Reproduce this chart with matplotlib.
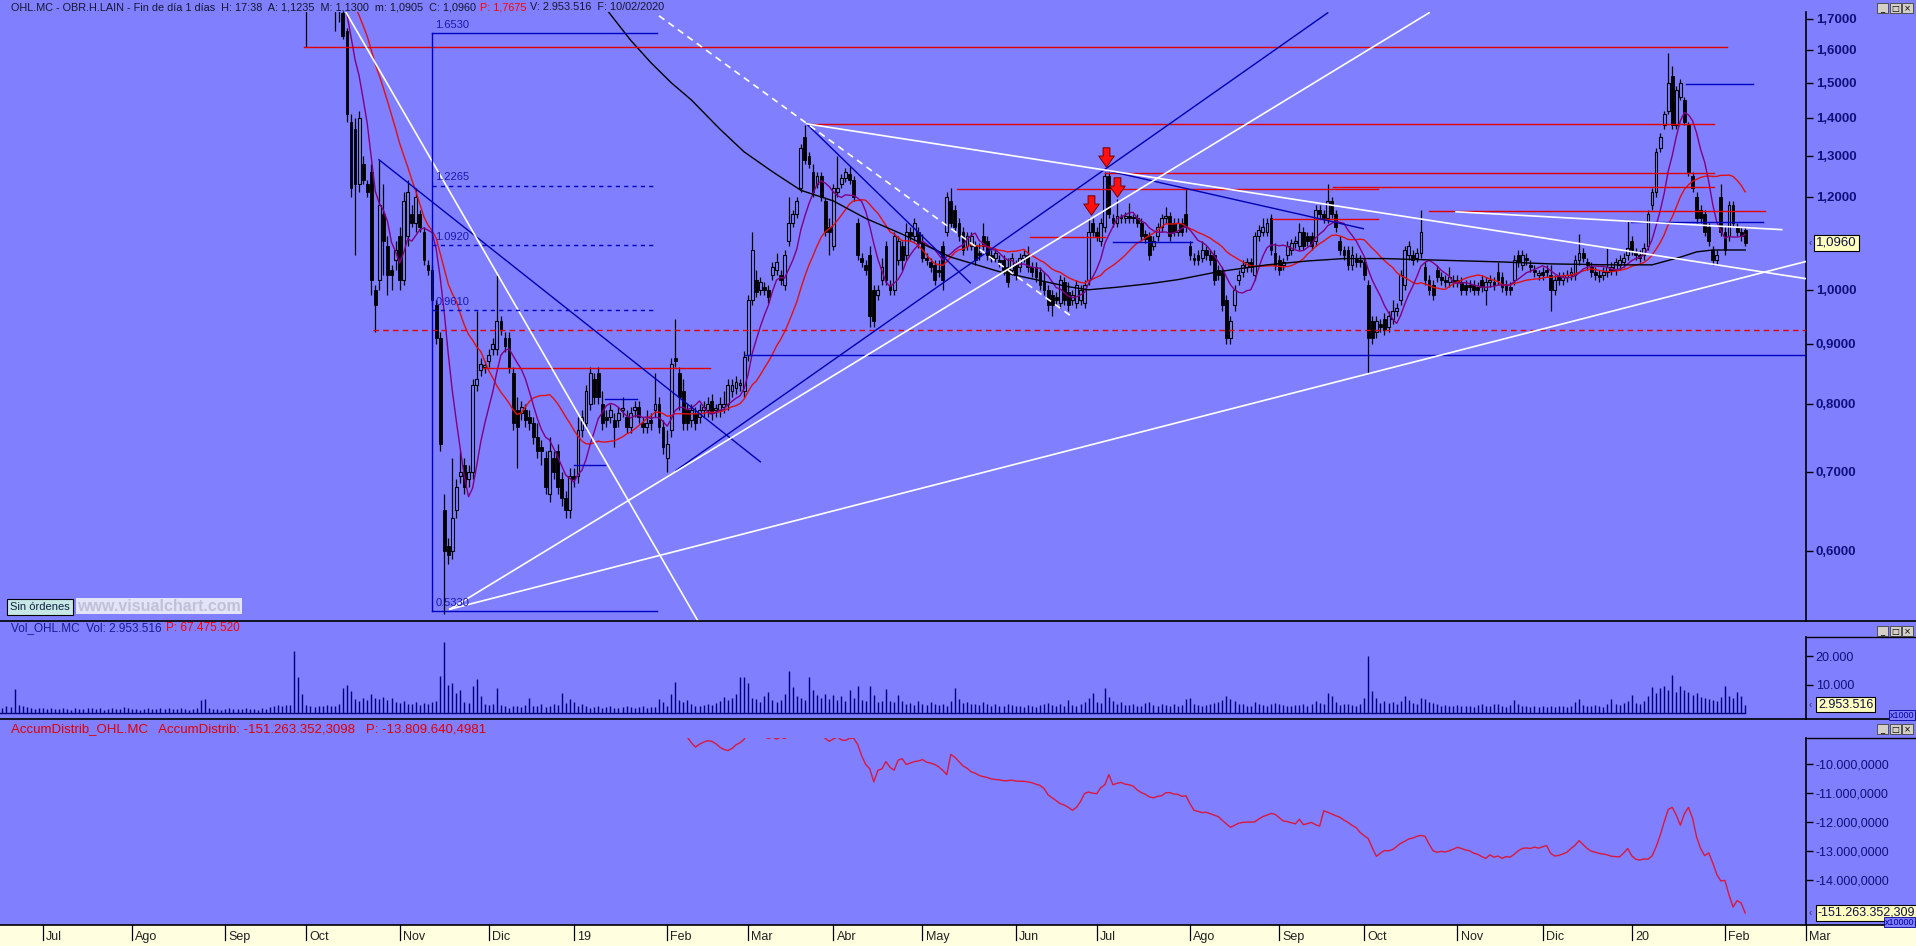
import numpy as np
import pandas as pd
import matplotlib
matplotlib.use('Agg')
import matplotlib.pyplot as plt
from matplotlib.lines import Line2D
from matplotlib.patches import Rectangle
from matplotlib.path import Path
from matplotlib.ticker import FixedLocator, NullLocator
from matplotlib import font_manager, transforms

# ---------------- data (bar index 0 = 18/06/2018, business days) ----------------
first_bar = 66
opens = [
    1.97, 1.95, 1.93, 1.96, 1.92, 1.90, 1.88, 1.86, 1.87, 1.83,
    1.78, 1.80, 1.82, 1.80, 1.81, 1.79, 1.78, 1.75, 1.72, 1.66,
    1.39, 1.37, 1.23, 1.28, 1.23, 1.26, 1.00, 1.02, 1.16, 1.09,
    1.04, 1.06, 1.11, 1.02, 1.11, 1.16, 1.14, 1.16, 1.12, 1.05,
    1.04, 0.97, 0.91, 0.65, 0.605, 0.60, 0.65, 0.695, 0.71, 0.69,
    0.70, 0.83, 0.855, 0.86, 0.87, 0.89, 0.89, 0.94, 0.91, 0.91,
    0.85, 0.79, 0.785, 0.79, 0.78, 0.77, 0.75, 0.735, 0.72, 0.67,
    0.72, 0.73, 0.69, 0.665, 0.65, 0.695, 0.695, 0.76, 0.77, 0.80,
    0.84, 0.85, 0.80, 0.78, 0.78, 0.775, 0.775, 0.79, 0.78, 0.765,
    0.79, 0.795, 0.77, 0.765, 0.775, 0.79, 0.80, 0.765, 0.72, 0.76,
    0.875, 0.85, 0.82, 0.79, 0.775, 0.785, 0.78, 0.79, 0.79, 0.805,
    0.79, 0.79, 0.795, 0.80, 0.82, 0.825, 0.83, 0.82, 0.88, 0.98,
    1.02, 1.00, 1.005, 1.00, 1.03, 1.04, 1.03, 1.01, 1.10, 1.14,
    1.16, 1.22, 1.35, 1.30, 1.26, 1.23, 1.25, 1.19, 1.13, 1.09,
    1.21, 1.23, 1.245, 1.255, 1.24, 1.14, 1.065, 1.05, 1.07, 1.00,
    0.99, 1.02, 1.09, 1.01, 1.00, 1.06, 1.09, 1.07, 1.12, 1.11,
    1.12, 1.095, 1.065, 1.055, 1.05, 1.04, 1.09, 1.12, 1.19, 1.17,
    1.14, 1.12, 1.09, 1.09, 1.09, 1.075, 1.11, 1.10, 1.07, 1.065,
    1.06, 1.06, 1.045, 1.04, 1.05, 1.045, 1.065, 1.07, 1.045, 1.045,
    1.035, 1.015, 1.00, 0.99, 0.985, 0.975, 1.015, 0.995, 0.98, 0.975,
    0.98, 0.975, 1.02, 1.14, 1.12, 1.10, 1.13, 1.25, 1.15, 1.14,
    1.15, 1.15, 1.155, 1.15, 1.15, 1.14, 1.115, 1.11, 1.09, 1.11,
    1.13, 1.15, 1.155, 1.14, 1.12, 1.14, 1.16, 1.09, 1.065, 1.07,
    1.065, 1.08, 1.07, 1.07, 1.04, 1.035, 0.98, 0.91, 0.97, 1.02,
    1.035, 1.045, 1.055, 1.03, 1.11, 1.12, 1.12, 1.15, 1.075, 1.06,
    1.05, 1.07, 1.08, 1.095, 1.09, 1.12, 1.11, 1.11, 1.10, 1.17,
    1.16, 1.15, 1.19, 1.16, 1.10, 1.08, 1.08, 1.05, 1.065, 1.06,
    1.055, 1.01, 0.94, 0.92, 0.935, 0.945, 0.93, 0.945, 0.96, 0.98,
    1.01, 1.07, 1.07, 1.065, 1.075, 1.045, 1.02, 1.01, 1.04, 1.025,
    1.02, 1.015, 1.02, 1.02, 1.015, 1.01, 1.01, 1.01, 1.005, 1.02,
    1.00, 1.015, 1.015, 1.035, 1.025, 1.01, 1.005, 1.02, 1.07, 1.05,
    1.065, 1.05, 1.04, 1.03, 1.035, 1.04, 1.03, 1.00, 1.025, 1.02,
    1.025, 1.03, 1.03, 1.06, 1.075, 1.055, 1.045, 1.035, 1.03, 1.03,
    1.035, 1.04, 1.04, 1.05, 1.055, 1.07, 1.10, 1.075, 1.07, 1.07,
    1.09, 1.18, 1.21, 1.32, 1.38, 1.42, 1.52, 1.38, 1.46, 1.45,
    1.38, 1.25, 1.20, 1.17, 1.16, 1.13, 1.08, 1.06, 1.20, 1.12,
    1.11, 1.18, 1.13, 1.12, 1.1235]
closes = [
    1.95, 1.93, 1.96, 1.92, 1.90, 1.88, 1.86, 1.87, 1.83, 1.78,
    1.80, 1.82, 1.80, 1.81, 1.79, 1.78, 1.75, 1.73, 1.645, 1.41,
    1.22, 1.23, 1.40, 1.24, 1.21, 1.02, 0.97, 1.18, 1.10, 1.03,
    1.03, 1.08, 1.02, 1.19, 1.21, 1.14, 1.20, 1.13, 1.06, 1.04,
    0.98, 0.91, 0.74, 0.60, 0.595, 0.64, 0.68, 0.70, 0.68, 0.70,
    0.83, 0.84, 0.865, 0.86, 0.88, 0.90, 0.94, 0.925, 0.895, 0.86,
    0.77, 0.765, 0.795, 0.775, 0.77, 0.75, 0.73, 0.73, 0.68, 0.73,
    0.70, 0.68, 0.665, 0.65, 0.695, 0.69, 0.76, 0.78, 0.82, 0.85,
    0.81, 0.81, 0.77, 0.775, 0.79, 0.765, 0.785, 0.79, 0.765, 0.785,
    0.795, 0.78, 0.765, 0.77, 0.77, 0.80, 0.765, 0.735, 0.74, 0.865,
    0.87, 0.81, 0.77, 0.77, 0.79, 0.77, 0.79, 0.795, 0.80, 0.785,
    0.79, 0.80, 0.80, 0.83, 0.83, 0.835, 0.83, 0.877, 0.98, 1.08,
    0.995, 1.015, 1.00, 0.985, 1.045, 1.055, 1.02, 1.07, 1.14, 1.16,
    1.19, 1.32, 1.29, 1.28, 1.21, 1.25, 1.20, 1.12, 1.12, 1.22,
    1.22, 1.245, 1.26, 1.24, 1.20, 1.07, 1.055, 1.04, 0.95, 0.94,
    1.00, 1.045, 1.02, 1.00, 1.11, 1.10, 1.06, 1.12, 1.11, 1.14,
    1.095, 1.065, 1.06, 1.045, 1.02, 1.035, 1.02, 1.20, 1.14, 1.13,
    1.11, 1.08, 1.11, 1.11, 1.06, 1.07, 1.09, 1.07, 1.065, 1.075,
    1.055, 1.04, 1.015, 1.065, 1.03, 1.065, 1.07, 1.045, 1.035, 1.025,
    1.01, 1.00, 0.97, 0.97, 0.98, 1.02, 0.98, 0.97, 0.99, 1.01,
    1.00, 1.01, 1.12, 1.12, 1.11, 1.14, 1.25, 1.16, 1.14, 1.155,
    1.15, 1.155, 1.15, 1.15, 1.14, 1.11, 1.105, 1.07, 1.10, 1.13,
    1.15, 1.155, 1.11, 1.12, 1.14, 1.12, 1.13, 1.07, 1.06, 1.06,
    1.08, 1.07, 1.06, 1.02, 1.03, 0.97, 0.91, 0.94, 1.00, 1.03,
    1.05, 1.055, 1.045, 1.11, 1.125, 1.13, 1.14, 1.08, 1.05, 1.04,
    1.055, 1.09, 1.095, 1.10, 1.12, 1.09, 1.10, 1.09, 1.17, 1.16,
    1.15, 1.19, 1.16, 1.13, 1.08, 1.07, 1.05, 1.07, 1.055, 1.055,
    1.03, 0.91, 0.91, 0.94, 0.93, 0.925, 0.95, 0.96, 0.965, 1.03,
    1.08, 1.09, 1.06, 1.075, 1.12, 1.02, 1.00, 0.99, 1.025, 1.02,
    1.015, 1.025, 1.015, 1.015, 1.00, 1.00, 1.005, 1.00, 1.00, 1.005,
    1.015, 1.02, 1.01, 1.02, 1.005, 1.00, 1.00, 1.06, 1.055, 1.07,
    1.06, 1.045, 1.035, 1.03, 1.03, 1.035, 1.00, 1.02, 1.02, 1.025,
    1.03, 1.035, 1.06, 1.075, 1.065, 1.05, 1.035, 1.03, 1.025, 1.035,
    1.045, 1.045, 1.055, 1.06, 1.065, 1.085, 1.08, 1.07, 1.065, 1.085,
    1.16, 1.21, 1.31, 1.35, 1.41, 1.50, 1.38, 1.48, 1.50, 1.39,
    1.26, 1.22, 1.15, 1.15, 1.12, 1.10, 1.06, 1.07, 1.12, 1.08,
    1.18, 1.14, 1.12, 1.11, 1.096]
# wick lengths above / below the body, in cents
wick_hi = [
    2, 2, 2, 2, 2, 2, 2, 2, 2, 5, 2, 2, 2, 2, 2, 2, 2, 1, 2, 1,
    2, 3, 2, 2, 1, 2, 1, 11, 7, 2, 1, 2, 2, 2, 3, 2, 2, 1, 1, 1,
    1, 1, 1, 2, 1, 8, 1, 3, 1, 1, 1, 12, 1, 1, 1, 1, 9, 1, 1, 1,
    1, 2, 1, 1, 1, 1, 2, 1, 1, 2, 1, 1, 1, 1, 1, 1, 2, 1, 1, 1,
    1, 1, 2, 1, 1, 1, 1, 2, 1, 1, 1, 1, 1, 2, 1, 5, 1, 1, 2, 1,
    7, 1, 2, 1, 1, 1, 1, 1, 1, 1, 1, 1, 2, 1, 1, 1, 1, 1, 1, 4,
    2, 1, 1, 1, 1, 2, 1, 1, 6, 1, 1, 1, 3, 1, 2, 1, 1, 1, 2, 1,
    8, 1, 1, 2, 1, 1, 1, 1, 2, 1, 1, 2, 1, 1, 1, 1, 1, 2, 1, 1,
    1, 2, 1, 1, 1, 2, 1, 1, 3, 1, 1, 1, 1, 1, 1, 2, 3, 1, 1, 1,
    1, 1, 2, 1, 1, 1, 1, 2, 1, 1, 1, 2, 1, 1, 1, 1, 1, 2, 1, 1,
    1, 1, 3, 1, 1, 1, 1, 1, 1, 4, 1, 1, 3, 1, 1, 1, 1, 1, 1, 1,
    1, 2, 1, 1, 1, 1, 6, 1, 1, 1, 2, 1, 1, 1, 1, 1, 1, 1, 1, 1,
    1, 1, 1, 1, 1, 2, 1, 1, 2, 1, 1, 1, 1, 1, 2, 1, 1, 1, 1, 1,
    1, 4, 1, 1, 1, 1, 1, 2, 1, 1, 1, 1, 1, 1, 1, 1, 1, 2, 1, 1,
    1, 1, 1, 1, 5, 1, 1, 1, 1, 1, 1, 2, 1, 1, 1, 1, 1, 1, 1, 1,
    1, 1, 1, 2, 1, 1, 1, 1, 1, 1, 1, 1, 1, 1, 1, 1, 2, 1, 1, 1,
    1, 1, 1, 4, 1, 1, 1, 1, 1, 1, 4, 1, 1, 1, 1, 6, 1, 1, 1, 1,
    1, 1, 1, 1, 1, 9, 3, 1, 1, 1, 1, 1, 1, 1, 1, 1, 1, 1, 3, 1,
    1, 1, 1, 1, 0.65]
wick_lo = [
    2, 2, 2, 2, 2, 2, 2, 2, 2, 17, 2, 2, 2, 2, 2, 2, 9, 4, 1, 2,
    2, 16, 2, 1, 1, 3, 5, 2, 7, 4, 3, 2, 2, 1, 2, 1, 2, 1, 1, 1,
    1, 1, 1, 7, 1, 1, 1, 1, 1, 1, 1, 1, 1, 1, 1, 1, 1, 1, 1, 1,
    1, 6, 1, 1, 1, 1, 1, 2, 1, 1, 1, 1, 1, 1, 1, 1, 1, 1, 1, 1,
    1, 1, 1, 1, 1, 3, 1, 1, 1, 1, 1, 1, 1, 1, 1, 1, 1, 1, 2, 1,
    1, 2, 1, 1, 1, 1, 1, 1, 1, 1, 1, 1, 1, 1, 1, 1, 1, 1, 1, 1,
    1, 1, 1, 1, 1, 1, 1, 1, 1, 1, 1, 1, 1, 1, 1, 1, 1, 1, 5, 1,
    1, 1, 1, 1, 1, 1, 1, 1, 2, 1, 1, 1, 1, 1, 1, 1, 2, 1, 1, 1,
    1, 1, 1, 1, 1, 1, 2, 1, 1, 1, 1, 1, 1, 1, 1, 1, 1, 1, 1, 1,
    1, 1, 1, 1, 1, 1, 1, 1, 1, 1, 1, 1, 1, 2, 1, 1, 1, 1, 1, 1,
    1, 1, 1, 1, 1, 1, 1, 1, 1, 1, 1, 1, 1, 1, 1, 1, 1, 1, 1, 1,
    1, 1, 1, 1, 1, 1, 1, 1, 1, 1, 1, 1, 1, 1, 1, 1, 1, 1, 1, 1,
    1, 1, 1, 1, 1, 1, 1, 1, 1, 1, 1, 1, 1, 1, 1, 1, 1, 1, 1, 1,
    1, 1, 1, 1, 1, 1, 1, 1, 1, 1, 1, 6, 1, 1, 1, 1, 1, 1, 1, 1,
    1, 1, 1, 1, 1, 1, 1, 1, 1, 1, 1, 1, 1, 1, 1, 1, 1, 1, 1, 1,
    3, 1, 1, 1, 1, 1, 1, 1, 1, 1, 1, 1, 1, 1, 1, 1, 4, 1, 1, 1,
    1, 1, 1, 1, 1, 1, 1, 1, 1, 1, 1, 1, 1, 1, 1, 1, 1, 1, 1, 1,
    1, 1, 1, 1, 1, 1, 1, 1, 1, 1, 1, 1, 1, 1, 1, 1, 1, 1, 1, 1,
    1, 1, 1, 1, 0.55]

# volume in thousands, from bar 0
volume = [
    1800, 2600, 2200, 8500, 2900, 2300, 2000, 1700, 1500, 1900, 1600, 1400, 1800, 1500, 1300, 1700, 1400, 1200, 1600, 1500,
    1300, 1700, 1900, 1400, 1600, 1200, 1500, 1800, 1300, 1400, 2100, 1600, 1300, 1500, 1200, 1400, 1700, 1500, 1300, 1600,
    1400, 1800, 1500, 1300, 1700, 1400, 1200, 1500, 1600, 4400, 4900, 1800, 1500, 1300, 1200, 1400, 1600, 1300, 1500, 1400,
    1800, 1300, 1500, 1200, 1600, 1400, 2200, 2500, 2700, 2600, 2800, 2700, 21800, 12500, 6500, 2800, 2500, 2200, 2600, 2400,
    2700, 2300, 2500, 3300, 8700, 9800, 7600, 5000, 4200, 5200, 4600, 6500, 5400, 5000, 5600, 4400, 5400, 3800, 3500, 4200,
    3200, 3300, 3800, 2900, 3500, 3300, 3800, 4200, 13000, 25000, 9800, 10400, 7000, 8200, 3800, 3600, 9300, 12000, 6000, 3300,
    2800, 3000, 8700, 2900, 2500, 1900, 2300, 2600, 2100, 2800, 5400, 2400, 2600, 3000, 2200, 2500, 3100, 2700, 7000, 3400,
    4800, 3900, 2600, 3000, 2400, 1900, 2200, 2500, 1800, 2100, 2300, 1900, 1700, 2200, 2400, 2000, 1800, 2100, 2300, 1900,
    2100, 2000, 4900, 3800, 2600, 6500, 10900, 4400, 3800, 4700, 3200, 2600, 2400, 2900, 3300, 2800, 3600, 4100, 5600, 4600,
    5200, 6800, 12500, 12500, 10500, 5200, 4800, 3900, 6000, 7200, 4600, 3800, 4400, 6600, 14900, 9000, 6100, 5300, 4700, 12500,
    8000, 6200, 5400, 6800, 4900, 6300, 4700, 5800, 4200, 7900, 5100, 9600, 4500, 4200, 9600, 6400, 3900, 4300, 8500, 4300,
    3800, 6400, 4200, 3100, 3600, 2800, 4100, 3300, 2900, 3700, 3000, 2700, 3300, 2600, 4300, 8900, 5000, 3600, 3900, 3100,
    3300, 2900, 3700, 3200, 2600, 3000, 2500, 2400, 3300, 2800, 2600, 2400, 2200, 2800, 2500, 2100, 2900, 3100, 3600, 2700,
    2400, 3000, 2600, 4500, 2800, 2500, 3300, 3700, 5200, 6900, 4000, 3400, 8900, 5600, 4100, 3200, 3800, 2800, 2700, 3100,
    2600, 2500, 3400, 3900, 2800, 2400, 3100, 2900, 2600, 3300, 2500, 2700, 4800, 5300, 3300, 2700, 2400, 2900, 3200, 3500,
    3900, 4700, 5800, 4900, 4300, 3300, 3000, 2600, 2500, 3800, 3100, 2700, 2600, 3200, 3600, 3300, 2900, 2500, 2400, 2700,
    2900, 3100, 2600, 3300, 4100, 3400, 3000, 6900, 5900, 3700, 2900, 3300, 3100, 2800, 2500, 3000, 5300, 20000, 7800, 5200,
    3600, 4300, 3400, 3900, 3100, 4200, 5800, 4400, 3600, 3200, 5300, 4800, 3900, 3500, 3200, 2600, 2900, 2500, 2400, 2700,
    2300, 2600, 2500, 2200, 2800, 3100, 2600, 2400, 3300, 3000, 2500, 2200, 2700, 4600, 3200, 2600, 2300, 2100, 2500, 2200,
    2400, 2100, 2600, 2000, 2300, 2500, 2200, 2400, 3700, 4800, 2800, 2600, 2300, 2900, 2500, 2200, 3000, 4800, 3300, 2700,
    3500, 4200, 6400, 3600, 3100, 4200, 5800, 9000, 7000, 8600, 9600, 8100, 13300, 7200, 9600, 8000, 7500, 6400, 7000, 5600,
    5200, 4800, 4600, 4100, 5600, 9600, 6000, 5200, 7200, 5900, 2953.516]

# accumulation / distribution (x10000), from bar 169
accum_start = 169
accum = [
    -9060, -9250, -9400, -9300, -9230, -9180, -9200, -9280, -9400, -9480,
    -9520, -9450, -9320, -9250, -9130, -8900, -8700, -8800, -8950, -9050,
    -9100, -9050, -9120, -9060, -9100, -9030, -8900, -8600, -8500, -8400,
    -8450, -8600, -8800, -8950, -9100, -9200, -9120, -9050, -9150, -9170,
    -9100, -9090, -9300, -9700, -10000, -10150, -10600, -10200, -10150, -9900,
    -10100, -10200, -9850, -9800, -10000, -9950, -9900, -9880, -9830, -9920,
    -9950, -10000, -10080, -10200, -10350, -9650, -9750, -9900, -10050, -10130,
    -10250, -10300, -10380, -10420, -10450, -10500, -10520, -10530, -10560, -10560,
    -10540, -10570, -10580, -10580, -10600, -10630, -10680, -10720, -10830, -11050,
    -11150, -11250, -11350, -11400, -11480, -11580, -11480, -11280, -11000, -10950,
    -10990, -11010, -10800, -10700, -10350, -10700, -10650, -10620, -10680, -10700,
    -10750, -10880, -10970, -11030, -11120, -11150, -11100, -11080, -10980, -10970,
    -11020, -11030, -11100, -11080, -11350, -11580, -11620, -11660, -11650, -11700,
    -11750, -11800, -11930, -12050, -12170, -12100, -12030, -12000, -11990, -11990,
    -11980, -11880, -11800, -11750, -11690, -11720, -11830, -11950, -11970, -12010,
    -12050, -11890, -12080, -12040, -12000, -12080, -12130, -11600, -11650, -11710,
    -11770, -11820, -11920, -12000, -12100, -12180, -12350, -12460, -12560, -12880,
    -13170, -13060, -12970, -12980, -12940, -12830, -12720, -12650, -12570, -12540,
    -12480, -12450, -12480, -12750, -12980, -13030, -13000, -13020, -12980, -12920,
    -12860, -12900, -12950, -12980, -13060, -13100, -13180, -13240, -13120, -13200,
    -13160, -13240, -13180, -13200, -13100, -12980, -12900, -12880, -12900, -12850,
    -12890, -12840, -12800, -13070, -13160, -13140, -13090, -13030, -12900, -12790,
    -12630, -12760, -12900, -12990, -13030, -13070, -13090, -13120, -13170, -13180,
    -13190, -13060, -12900, -13150, -13270, -13300, -13260, -13270, -13160, -12850,
    -12450, -11990, -11550, -11480, -11750, -12100, -11700, -11480, -11850, -12500,
    -12900, -13150, -13050, -13400, -13800, -14020, -14000, -14500, -14920, -14700,
    -14780, -15126]

# long moving average (black), read as points
long_ma_idx = [148, 155, 160, 165, 170, 177, 183, 190, 197, 205, 213, 222, 234, 246, 255, 263,
               268, 275, 283, 290, 300, 312, 322, 331, 341, 353, 370, 382, 397, 407, 414, 418, 422, 430]
long_ma_val = [1.75, 1.63, 1.56, 1.50, 1.45, 1.37, 1.31, 1.26, 1.215, 1.19, 1.15, 1.115, 1.066, 1.036, 1.02, 1.006,
               1.0, 1.005, 1.012, 1.02, 1.036, 1.05, 1.058, 1.063, 1.063, 1.06, 1.056, 1.052, 1.05, 1.05, 1.066, 1.077, 1.081, 1.081]

# chart drawings: (start bar, end bar, price)
red_levels = [(74.5, 425.4, 1.61), (198.4, 422.4, 1.384), (272.0, 422.4, 1.258), (328.4, 422.4, 1.222),
              (235.5, 339.5, 1.217), (351.9, 434.8, 1.166), (313.3, 339.5, 1.149), (253.6, 272.0, 1.108),
              (118.5, 174.6, 0.858)]
red_dashed_level = (91.4, 445.0, 0.925)
blue_levels = [(415.5, 431.8, 1.495), (401.9, 434.5, 1.142), (274.1, 293.4, 1.098),
               (148.7, 156.5, 0.808), (141.1, 148.7, 0.71), (183.3, 445.0, 0.880)]
# (bar0, price0, bar1, price1)
blue_trend = [(198.4, 1.384, 238.8, 1.0136), (92.9, 1.29, 187.0, 0.714),
              (166.2, 0.702, 327.0, 1.72), (272.0, 1.264, 335.8, 1.127)]
white_trend = [(84.0, 1.74, 172.0, 0.52), (110.4, 0.535, 352.0, 1.72), (110.4, 0.535, 445.0, 1.057),
               (198.4, 1.384, 445.0, 1.022), (358.6, 1.165, 439.0, 1.125)]
white_dashed = (162.0, 1.71, 264.0, 0.948)
fib_bars = (106.0, 161.6)
fib_levels = [1.653, 1.2265, 1.092, 0.961, 0.533]
fib_labels = ['1.6530', '1.2265', '1.0920', '0.9610', '0.5330']
arrow_bars = [268.7, 272.3, 275.0]
arrow_prices = [1.18, 1.298, 1.222]

price_ticks = [0.6, 0.7, 0.8, 0.9, 1.0, 1.2, 1.3, 1.4, 1.5, 1.6, 1.7]
price_tick_labels = ['0,6000', '0,7000', '0,8000', '0,9000', '1,0000', '1,2000', '1,3000',
                     '1,4000', '1,5000', '1,6000', '1,7000']
vol_ticks = [10000, 20000]
vol_tick_labels = ['10.000', '20.000']
acc_ticks = [-10000, -11000, -12000, -13000, -14000]
acc_tick_labels = ['-10.000,0000', '-11.000,0000', '-12.000,0000', '-13.000,0000', '-14.000,0000']
month_names = {2: 'Feb', 3: 'Mar', 4: 'Abr', 5: 'May', 6: 'Jun', 7: 'Jul', 8: 'Ago',
               9: 'Sep', 10: 'Oct', 11: 'Nov', 12: 'Dic'}

# ---------------- style ----------------
W, H = 1916, 946
BG = '#8080FF'
NAVY = '#10107A'
RED = '#E00000'
names = {f.name for f in font_manager.fontManager.ttflist}
SANS = 'Liberation Sans' if 'Liberation Sans' in names else 'DejaVu Sans'
NARROW = 'Liberation Sans Narrow' if 'Liberation Sans Narrow' in names else SANS
plt.rcParams['font.family'] = [SANS, 'DejaVu Sans']

XL = (-0.6, 445.0)
AX_RIGHT = 1806

fig = plt.figure(figsize=(W / 100, H / 100), dpi=100, facecolor=BG)


def add_ax(l, t, r, b):
    ax = fig.add_axes([l / W, 1 - b / H, (r - l) / W, (b - t) / H])
    ax.set_facecolor(BG)
    for s in ax.spines.values():
        s.set_visible(False)
    ax.spines['right'].set_visible(True)
    ax.spines['right'].set_color('black')
    ax.spines['right'].set_linewidth(1.2)
    ax.set_xticks([])
    ax.yaxis.tick_right()
    ax.tick_params(axis='y', direction='out', length=5, width=1, color='black', pad=2)
    return ax


def hline_px(y, x0=0, x1=W, lw=1.2):
    fig.add_artist(Line2D([x0 / W, x1 / W], [1 - y / H, 1 - y / H], color='black', lw=lw,
                          transform=fig.transFigure))


# ---------------- price panel ----------------
ax = add_ax(0, 12, AX_RIGHT, 621)
ax.set_yscale('log')
ax.set_xlim(*XL)
ax.set_ylim(0.5228, 1.7227)
ax.yaxis.set_major_locator(FixedLocator(price_ticks))
ax.yaxis.set_minor_locator(NullLocator())
ax.set_yticklabels(price_tick_labels, fontsize=9.5, fontweight='bold', color=NAVY)

idx = np.arange(first_bar, first_bar + len(closes))
o = np.array(opens)
c = np.array(closes)
hi = np.maximum(o, c) + np.array(wick_hi) / 100
lo = np.minimum(o, c) - np.array(wick_lo) / 100
ax.vlines(idx, lo, hi, color='black', lw=0.9, zorder=3)
up = c >= o
bot = np.minimum(o, c)
hgt = np.maximum(np.abs(c - o), 0.003)
ax.bar(idx[up], hgt[up], bottom=bot[up], width=0.7, facecolor=BG, edgecolor='black', lw=0.8, zorder=4)
ax.bar(idx[~up], hgt[~up], bottom=bot[~up], width=0.7, color='black', edgecolor='black', lw=0.6, zorder=4)

cs = pd.Series(c, index=idx)
ax.plot(idx, cs.rolling(20).mean(), color='#E01010', lw=1.0, zorder=5)
ax.plot(idx, cs.rolling(8).mean(), color='#800080', lw=1.0, zorder=5)
ax.plot(long_ma_idx, long_ma_val, color='black', lw=1.0, zorder=5)

for x0, x1, p in red_levels:
    ax.plot([x0, x1], [p, p], color=RED, lw=1.0, zorder=6)
ax.plot(red_dashed_level[:2], [red_dashed_level[2]] * 2, color=RED, lw=1.0, ls=(0, (4, 3)), zorder=6)
for x0, x1, p in blue_levels:
    ax.plot([x0, x1], [p, p], color='#0000C0', lw=1.0, zorder=6)
for x0, p0, x1, p1 in blue_trend:
    ax.plot([x0, x1], [p0, p1], color='#0000B0', lw=1.0, zorder=6)
for x0, p0, x1, p1 in white_trend:
    ax.plot([x0, x1], [p0, p1], color='white', lw=1.2, zorder=6)
ax.plot([white_dashed[0], white_dashed[2]], [white_dashed[1], white_dashed[3]], color='white', lw=1.2,
        ls=(0, (4, 3)), zorder=6)

# fibonacci box
f0, f1 = fib_bars
ax.plot([f0, f0], [fib_levels[-1], fib_levels[0]], color='#0000C0', lw=1.0, zorder=6)
for k, (lev, lab) in enumerate(zip(fib_levels, fib_labels)):
    ls = '-' if k in (0, len(fib_levels) - 1) else (0, (3, 3))
    ax.plot([f0, f1], [lev, lev], color='#0000C0', lw=1.0, ls=ls, zorder=6)
    ax.text(f0 + 0.8, lev * 1.006, lab, color='#1818B0', fontsize=8, va='bottom', ha='left', zorder=7)

# red down arrows
arrow = Path([(-0.35, 1), (0.35, 1), (0.35, 0.15), (0.8, 0.15), (0, -1), (-0.8, 0.15), (-0.35, 0.15), (-0.35, 1)],
             [Path.MOVETO] + [Path.LINETO] * 6 + [Path.CLOSEPOLY])
ax.plot(arrow_bars, arrow_prices, ls='none', marker=arrow, ms=14, mfc='#FF1010', mec='#700000', mew=0.7, zorder=8)

# last value boxes on the right scales
tr = transforms.blended_transform_factory(ax.transAxes, ax.transData)
ax.text(1816 / AX_RIGHT, closes[-1], '1,0960', transform=tr, fontsize=9.5, color='#101040', va='center',
        ha='left', clip_on=False, bbox=dict(boxstyle='square,pad=0.18', fc='#FFFFC0', ec='black', lw=0.8))
ax.text(1809 / AX_RIGHT, closes[-1], '‹', transform=tr, fontsize=7, color='#303060', va='center',
        ha='left', clip_on=False)

# ---------------- volume panel ----------------
axv = add_ax(0, 637, AX_RIGHT, 719)
axv.set_xlim(*XL)
axv.set_ylim(-2105, 26670)
axv.vlines(np.arange(len(volume)), 0, volume, color='#00007A', lw=1.0)
axv.axhline(0, color='#00007A', lw=1.0, xmax=(len(volume) - 1 - XL[0]) / (XL[1] - XL[0]))
axv.yaxis.set_major_locator(FixedLocator(vol_ticks))
axv.set_yticklabels(vol_tick_labels, fontsize=9, color=NAVY)
trv = transforms.blended_transform_factory(axv.transAxes, axv.transData)
axv.text(1818 / AX_RIGHT, volume[-1], '2.953.516', transform=trv, fontsize=9, color='#101040', va='center',
         ha='left', clip_on=False, bbox=dict(boxstyle='square,pad=0.15', fc='#FFFFC0', ec='black', lw=0.8))
axv.text(1809 / AX_RIGHT, volume[-1], '‹', transform=trv, fontsize=7, color='#303060', va='center',
         ha='left', clip_on=False)

# ---------------- accumulation / distribution panel ----------------
axa = add_ax(0, 738, AX_RIGHT, 925)
axa.set_xlim(*XL)
axa.set_ylim(-15541, -9086)
axa.plot(np.arange(accum_start, accum_start + len(accum)), accum, color='#D8183C', lw=1.0)
axa.yaxis.set_major_locator(FixedLocator(acc_ticks))
axa.set_yticklabels(acc_tick_labels, fontsize=9, color=NAVY)
tra = transforms.blended_transform_factory(axa.transAxes, axa.transData)
axa.text(1818 / AX_RIGHT, accum[-1], '-151.263.352,309', transform=tra, fontsize=9, color='#101040',
         va='center', ha='left', clip_on=False,
         bbox=dict(boxstyle='square,pad=0.15', fc='#FFFFC0', ec='black', lw=0.8))
axa.text(1809 / AX_RIGHT, accum[-1], '‹', transform=tra, fontsize=7, color='#303060', va='center',
         ha='left', clip_on=False)

# ---------------- date strip ----------------
axd = fig.add_axes([0, 0, 1, 21 / H])
axd.set_xlim(XL[0], XL[0] + (XL[1] - XL[0]) * W / AX_RIGHT)
axd.set_ylim(0, 1)
axd.axis('off')
axd.add_patch(Rectangle((0, 0), 1, 1, transform=axd.transAxes, fc='#FFFFE0', ec='none'))
dates = pd.bdate_range('2018-06-18', '2020-03-31')
prev = None
for i, d in enumerate(dates):
    key = (d.year, d.month)
    if key != prev and (2018, 7) <= key <= (2020, 3):
        lab = str(d.year)[2:] if d.month == 1 else month_names[d.month]
        axd.plot([i, i], [1, 0.3], color='black', lw=0.9)
        axd.text(i + 0.8, 0.42, lab, fontsize=9, color='#202020', va='center', ha='left',
                 family=[NARROW, 'DejaVu Sans'])
    prev = key

# ---------------- frame lines & headers ----------------
hline_px(621)
hline_px(719)
hline_px(925)
hline_px(637, AX_RIGHT, W, lw=1.0)
hline_px(738, AX_RIGHT, W, lw=1.0)

for y0 in (3, 626, 724):
    for k, g in enumerate(['_', '□', '×']):
        x0 = 1877 + k * 12.5
        fig.add_artist(Rectangle((x0 / W, 1 - (y0 + 10) / H), 11 / W, 10 / H, transform=fig.transFigure,
                                 fc='#D4D0C8', ec='#404040', lw=0.6))
        fig.text((x0 + 5.5) / W, 1 - (y0 + 5.3) / H, g, fontsize=6, ha='center', va='center', color='black',
                 family=['DejaVu Sans'])

for y0, lab in ((715, 'x1000'), (922, 'x10000')):
    fig.text(1914 / W, 1 - y0 / H, lab, fontsize=6.5, ha='right', va='center', color='#0000A0',
             family=[NARROW, 'DejaVu Sans'],
             bbox=dict(boxstyle='square,pad=0.1', fc=BG, ec='#0000A0', lw=0.6))

renderer = fig.canvas.get_renderer()


def colored_line(x, y, parts, size):
    for txt, col in parts:
        t = fig.text(x / W, 1 - y / H, txt, fontsize=size, color=col, va='center', ha='left')
        x = t.get_window_extent(renderer).x1 + 4


colored_line(11, 7, [('OHL.MC - OBR.H.LAIN - Fin de día 1 días  H: 17:38  A: 1,1235  M: 1,1300  m: 1,0905  C: 1,0960', '#151530'),
                     ('P: 1,7675', '#FF0000'),
                     ('V: 2.953.516  F: 10/02/2020', '#151530')], 7.8)
colored_line(11, 628, [('Vol_OHL.MC  Vol: 2.953.516', '#1A1A90'), ('P: 67.475.520', '#FF0000')], 8.5)
colored_line(11, 729, [('AccumDistrib_OHL.MC   AccumDistrib: -151.263.352,3098   P: -13.809.640,4981', '#E00000')], 9.5)

fig.text(10 / W, 1 - 607 / H, 'Sin órdenes', fontsize=8, color='#102040', va='center', ha='left',
         bbox=dict(boxstyle='square,pad=0.25', fc='#C8E8E8', ec='black', lw=0.8))
fig.text(77 / W, 1 - 606 / H, 'www.visualchart.com', fontsize=11.5, fontweight='bold', color='#C0C0D8',
         va='center', ha='left', bbox=dict(boxstyle='square,pad=0.05', fc='#E4E4F8', ec='none'))

fig.savefig('out.png', dpi=100, facecolor=BG)
